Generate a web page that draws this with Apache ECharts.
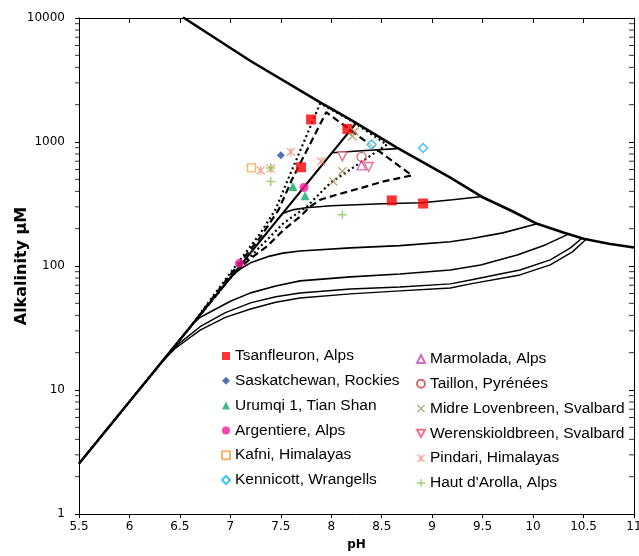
<!DOCTYPE html>
<html><head><meta charset="utf-8">
<script src="https://cdn.jsdelivr.net/npm/echarts@6/dist/echarts.min.js"></script>
<style>html,body{margin:0;padding:0;background:#fff}#c{width:639px;height:556px}</style>
</head><body><div id="c"></div>
<script>
// ---------- axes ----------
const xMin = 5.5, xMax = 11, xStep = 0.5;
const yMin = 1, yMax = 10000;
const yMinorTicks = [2,3,4,5,6,7,8,9,20,30,40,50,60,70,80,90,200,300,400,500,600,700,800,900,2000,3000,4000,5000,6000,7000,8000,9000];

// ---------- model lines [pH, alkalinity µM] ----------
const saturationLine = [[6.53,10140],[7.2,4500],[7.89,2084],[8.19,1518],[8.65,902],[9.18,515],[9.49,362],[9.8,275],[10.04,219],[10.3,186],[10.5,166],[10.75,151],[11.0,141]];
const openSystemLine = [[5.5,2.55],[8.24,1400]];
const closedA = [[8.01,820],[8.3,850],[8.65,885]];
const closedB = [[7.51,263],[7.56,274],[7.63,285],[7.75,295],[8.0,306],[8.5,318],[8.9,324],[9.2,342],[9.48,362]];
const closedC = [[7.02,84],[7.1,95],[7.2,106],[7.37,119],[7.52,127],[7.69,132],[8.19,140],[8.68,146],[9.18,157],[9.38,166],[9.7,185],[10.04,219]];
const closedD = [[6.63,34.7],[6.7,38.5],[6.8,42.6],[7.0,52],[7.2,60.7],[7.45,69],[7.69,75.9],[8.19,81.7],[8.68,86.3],[9.18,92.9],[9.48,102],[9.85,123],[10.12,148],[10.34,179]];
const closedE = [[6.35,18.0],[6.5,24],[6.7,32.4],[6.95,42],[7.2,50.4],[7.45,56.5],[7.69,60.5],[8.19,65.3],[8.68,67.8],[9.18,71.8],[9.38,77.1],[9.87,92.9],[10.17,112],[10.37,140],[10.49,169]];
const closedF = [[6.3,16.1],[6.45,21.5],[6.7,30.4],[6.95,38.5],[7.2,45.0],[7.45,51],[7.69,55.2],[8.19,59.6],[8.68,63.0],[9.18,66.5],[9.38,71.8],[9.87,84.7],[10.17,102],[10.39,130],[10.52,163]];
const dottedEnvelope = [[5.5,2.55],[6.6,32],[7.0,88],[7.3,185],[7.446,284],[7.57,497],[7.89,2046],[8.2,1483],[8.551,953],[8.3,692],[7.99,467],[7.759,302],[7.528,222],[7.198,119],[7.0,80],[5.5,2.55]];
const dashedEnvelope = [[5.5,2.55],[6.65,36],[7.0,85],[7.3,172],[7.478,284],[7.61,497],[7.95,1738],[8.799,538],[8.518,481],[8.3,427],[8.056,376],[7.891,342],[7.792,302],[7.693,251],[7.528,196],[7.363,144],[7.2,115],[7.05,90],[5.5,2.55]];

// ---------- observations [pH, alkalinity µM] ----------
const tsanfleuron = [[7.80,1518],[8.16,1276],[7.70,625],[8.60,338],[8.91,319]];
const saskatchewan = [[7.50,781]];
const urumqi = [[7.62,438],[7.74,369]];
const argentiere = [[7.73,430],[7.09,105]];
const kafni = [[7.21,618]];
const kennicott = [[8.40,953],[8.91,896]];
const marmolada = [[8.30,648]];
const taillon = [[8.30,758]];
const midre = [[8.23,1215],[8.21,1110],[8.11,580],[8.02,481]];
const werenskiold = [[8.11,766],[8.37,629]];
const pindari = [[7.30,590],[7.40,610],[7.60,832],[7.90,698]];
const hautArolla = [[7.40,617],[7.40,481],[8.11,259]];

const leftNames = ['Tsanfleuron, Alps','Saskatchewan, Rockies','Urumqi 1, Tian Shan','Argentiere, Alps','Kafni, Himalayas','Kennicott, Wrangells'];
const rightNames = ['Marmolada, Alps','Taillon, Pyrénées','Midre Lovenbreen, Svalbard','Werenskioldbreen, Svalbard','Pindari, Himalayas',"Haut d'Arolla, Alps"];

const XSYM = 'path://M0,1L1,0L5,4L9,0L10,1L6,5L10,9L9,10L5,6L1,10L0,9L4,5Z';
const PLUS = 'path://M4.2,0H5.8V4.2H10V5.8H5.8V10H4.2V5.8H0V4.2H4.2Z';
const STAR = 'path://M0,1L1,0L5,4L9,0L10,1L6,5L10,9L9,10L5,6L1,10L0,9L4,5ZM4.4,0H5.6V10H4.4Z';
const DOWNTRI = 'path://M0,0L10,0L5,9Z';

function lineS(data, width, type) {
  return {
    type: 'line', data: data, symbol: 'none', silent: true, z: 2,
    lineStyle: { color: '#000', width: width, type: type || 'solid' },
    emphasis: { disabled: true }, animation: false
  };
}
function sc(name, data, symbol, size, style) {
  return {
    type: 'scatter', name: name, data: data, symbol: symbol, symbolSize: size,
    itemStyle: style, z: 5, animation: false
  };
}

const chart = echarts.init(document.getElementById('c'), null, { renderer: 'canvas' });
const axisFont = { fontFamily: 'DejaVu Sans', fontSize: 12, color: '#000' };
const legendText = { fontFamily: 'Liberation Sans', fontSize: 15.5, color: '#000' };
const option = {
  animation: false,
  backgroundColor: '#fff',
  grid: { left: 79, right: 5, top: 18, bottom: 42, containLabel: false, outerBoundsMode: 'none' },
  xAxis: [
    { type: 'value', min: xMin, max: xMax, interval: xStep, position: 'bottom',
      name: 'pH', nameLocation: 'middle', nameGap: 25, nameMoveOverlap: false,
      nameTextStyle: { fontFamily: 'DejaVu Sans', fontWeight: 'bold', fontSize: 12, color: '#000' },
      axisLine: { show: true, onZero: false, lineStyle: { color: '#000', width: 1 } },
      axisTick: { show: true, inside: false, length: 4, lineStyle: { color: '#000' } },
      axisLabel: Object.assign({ margin: 7, formatter: v => String(v) }, axisFont),
      splitLine: { show: false } },
    { type: 'value', min: xMin, max: xMax, interval: xStep, position: 'top',
      axisLine: { show: true, onZero: false, lineStyle: { color: '#000', width: 1 } },
      axisTick: { show: true, inside: true, length: 5, lineStyle: { color: '#000' } },
      axisLabel: { show: false }, splitLine: { show: false } }
  ],
  yAxis: [
    { type: 'log', logBase: 10, min: yMin, max: yMax, position: 'left',
      name: 'Alkalinity µM', nameLocation: 'middle', nameGap: 49, nameMoveOverlap: false,
      nameTextStyle: { fontFamily: 'DejaVu Sans', fontWeight: 'bold', fontSize: 16, color: '#000' },
      axisLine: { show: true, onZero: false, lineStyle: { color: '#000', width: 1 } },
      axisTick: { show: true, inside: false, length: 4, lineStyle: { color: '#000' } },
      axisLabel: Object.assign({ margin: 14, formatter: v => String(v) }, axisFont),
      splitLine: { show: false } },
    { type: 'log', logBase: 10, min: yMin, max: yMax, position: 'right',
      axisLine: { show: true, onZero: false, lineStyle: { color: '#000', width: 1 } },
      axisTick: { show: true, inside: true, length: 5, lineStyle: { color: '#000' } },
      axisLabel: { show: false }, splitLine: { show: false } }
  ],
  legend: [
    { data: leftNames, orient: 'vertical', left: 216, top: 343, itemGap: 8.8, itemWidth: 8, itemHeight: 8,
      textStyle: legendText, selectedMode: false },
    { data: rightNames, orient: 'vertical', left: 411, top: 346, itemGap: 8.8, itemWidth: 8, itemHeight: 8,
      textStyle: legendText, selectedMode: false }
  ],
  series: [
    { type: 'scatter', data: yMinorTicks.map(v => [xMin, v]), symbol: 'rect', symbolSize: [4, 1], symbolOffset: [-2, 0],
      itemStyle: { color: '#000' }, silent: true, clip: false, z: 1, animation: false },
    { type: 'scatter', data: yMinorTicks.map(v => [xMax, v]), symbol: 'rect', symbolSize: [5, 1], symbolOffset: [-2.5, 0],
      itemStyle: { color: '#000' }, silent: true, clip: false, z: 1, animation: false },
    lineS(dottedEnvelope, 2.2, [2, 3]),
    lineS(dashedEnvelope, 2.2, [7, 4]),
    lineS(openSystemLine, 2.2),
    lineS(closedA, 1.6),
    lineS(closedB, 1.6),
    lineS(closedC, 1.6),
    lineS(closedD, 1.6),
    lineS(closedE, 1.4),
    lineS(closedF, 1.4),
    lineS(saturationLine, 2.6),
    sc('Tsanfleuron, Alps', tsanfleuron, 'rect', 10, { color: '#FF0000' }),
    sc('Saskatchewan, Rockies', saskatchewan, 'diamond', 8, { color: '#2C4A9A' }),
    sc('Urumqi 1, Tian Shan', urumqi, 'triangle', 9, { color: '#12A866' }),
    sc('Argentiere, Alps', argentiere, 'circle', 9, { color: '#F5169C' }),
    sc('Kafni, Himalayas', kafni, 'rect', 8, { color: '#fff', borderColor: '#F5A442', borderWidth: 1.4 }),
    sc('Kennicott, Wrangells', kennicott, 'diamond', 9, { color: '#fff', borderColor: '#12B4EE', borderWidth: 1.4 }),
    sc('Marmolada, Alps', marmolada, 'triangle', 9, { color: '#fff', borderColor: '#C34BB0', borderWidth: 1.4 }),
    sc('Taillon, Pyrénées', taillon, 'circle', 9, { color: 'rgba(255,255,255,0)', borderColor: '#C8464A', borderWidth: 1.4 }),
    sc('Midre Lovenbreen, Svalbard', midre, XSYM, 9, { color: '#A88A4E' }),
    sc('Werenskioldbreen, Svalbard', werenskiold, DOWNTRI, 9, { color: '#fff', borderColor: '#E8506B', borderWidth: 1.4 }),
    sc('Pindari, Himalayas', pindari, STAR, 9, { color: '#F8876E' }),
    sc("Haut d'Arolla, Alps", hautArolla, PLUS, 9, { color: '#83C84C' })
  ]
};
chart.setOption(option);
</script>
</body></html>
